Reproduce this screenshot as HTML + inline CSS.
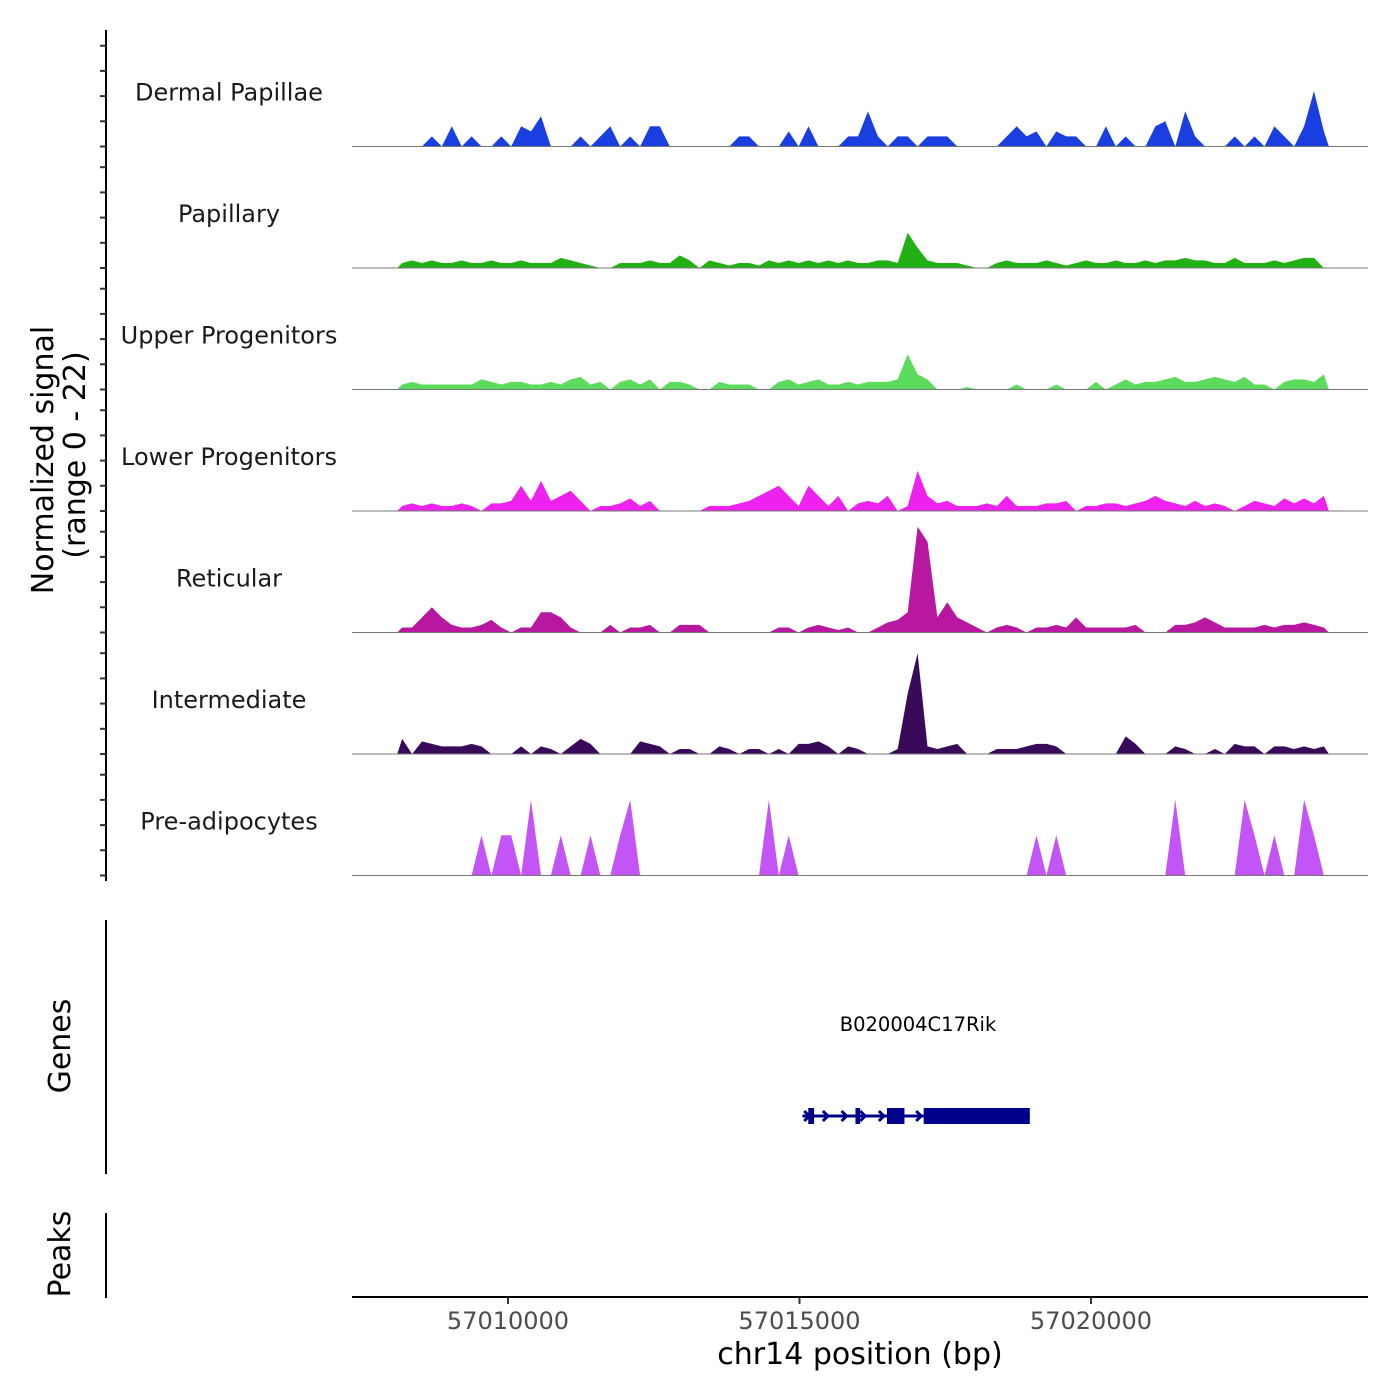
<!DOCTYPE html>
<html><head><meta charset="utf-8"><style>
body{margin:0;background:#fff}
svg{display:block;font-family:"DejaVu Sans","Liberation Sans",sans-serif}
</style></head><body>
<svg id="chart" width="1400" height="1400" viewBox="0 0 1400 1400" xmlns="http://www.w3.org/2000/svg">
<g id="tracks"></g>
<g id="yaxis"></g>
<text transform="translate(53,460) rotate(-90)" text-anchor="middle" font-size="30">Normalized signal</text>
<text transform="translate(85,455) rotate(-90)" text-anchor="middle" font-size="30">(range 0 - 22)</text>
<line x1="106" y1="920" x2="106" y2="1174" stroke="#000" stroke-width="2"/>
<text transform="translate(70,1046) rotate(-90)" text-anchor="middle" font-size="30">Genes</text>
<line x1="106" y1="1213" x2="106" y2="1298" stroke="#000" stroke-width="2"/>
<text transform="translate(70,1254) rotate(-90)" text-anchor="middle" font-size="30">Peaks</text>
<g id="gene"></g>
<g id="xaxis"></g>
<text x="860" y="1364" text-anchor="middle" font-size="30">chr14 position (bp)</text>
</svg>
<script>
const NS="http://www.w3.org/2000/svg";
const binStart=57008100, binStep=170;
const xTicks=[57010000,57015000,57020000];
const trackNames=["Dermal Papillae","Papillary","Upper Progenitors","Lower Progenitors","Reticular","Intermediate","Pre-adipocytes"];
const trackColors=["#1a3fe0","#22b014","#5ddb5d","#ee22ee","#b8179f","#3a0a5a","#c355f7"];
const dermal=[0,0,0,2,0,4,0,2,0,0,2,0,4,3,6,0,0,0,2,0,2,4,0,2,0,4,4,0,0,0,0,0,0,0,2,2,0,0,0,3,0,4,0,0,0,2,2,7,2,0,2,2,0,2,2,2,0,0,0,0,0,2,4,2,3,0,3,2,2,0,0,4,0,2,0,0,4,5,0,7,2,0,0,0,2,0,2,0,4,2,0,4,11,3];
const papillary=[1,1.5,1,1.5,1,1,1.5,1,1,1.5,1,1,1.5,1,1,1,2,1.5,1,0.5,0,0,1,1,1,1.5,1,1,2.5,1.5,0,1.5,1,0.5,1,1,0.5,1.5,1,1.5,1,1.5,1,1.5,1,1.5,1,1,1.5,1.5,1,7,4,1.5,1,1,1,0.5,0,0,1,1.5,1,1,1,1.5,1,0.5,1,1.5,1,1,1.5,1,1,1.5,1,1.5,1.5,2,1.5,1.5,1,1,2,1,1,1,1.5,1,1.5,2,2,0];
const upper=[1,1.5,1,1,1,1,1,1,2,1.5,1,1.5,1.5,1,1,1.5,1,2,2.5,1,1.5,0,1.5,2,1,2,0,1.5,1.5,1,0,0,1.5,1,1,1,0,0,1.5,2,1,1.5,2,1,1,1.5,1,1.5,1.5,1.5,2,7,3,2,0,0,0,0.5,0,0,0,0,1,0,0,0,1,0,0,0,1.5,0,1,2,1,1.5,1.5,2,2.5,1.5,1.5,2,2.5,2,1.5,2.5,1,1,0,1.5,2,2,1.5,3];
const lower=[1,1.5,1,1.5,1,1,1.5,1,0,1.5,1.5,2,5,2,6,2,3,4,2,0,1,1,1.5,2.5,1,2,0,0,0,0,0,1,1,1,1.5,2,3,4,5,3,1,5,3,1,3,0,1.5,2,1.5,3,0,1,8,3,1.5,2,1,1,1,1.5,1,3,1,1,1,1.5,1.5,2,0,1,1,1.5,1.5,1,1.5,2,3,2,1.5,1,2,1,1.5,1,0,1,2,1.5,1,2.5,1.5,2.5,1.5,3];
const reticular=[1,1,3,5,3,1.5,1,1,1.5,2.5,1,0,1,1,4,4,3,1,0,0,0,1.5,0,1,1,1.5,0,0,1.5,1.5,1.5,0,0,0,0,0,0,0,1,1,0,1,1.5,1,0.5,1,0,0,1,2,2.5,4,21,18,3,6,3,2,1,0,1,1.5,1,0,1,1,1.5,1,3,1,1,1,1,1,1.5,0,0,0,1.5,1.5,2,3,2,1,1,1,1,1.5,1,1.5,1.5,2,1.5,1];
const intermediate=[3,0,2.5,2,1.5,1.5,1.5,2,1.5,0,0,0,1.5,0,1.5,1,0,1.5,3,2,0,0,0,0,2.5,2,1.5,0,1,1,0,0,1.5,1,0,1,1,0,1,0,2,2,2.5,1.5,0,1.5,1,0,0,0,1,12,20,1.5,1,1.5,2,0,0,0,1,1,1,1.5,2,2,1.5,0,0,0,0,0,0,3.5,2,0,0,0,1.5,1,0,0,1,0,2,1.5,1.5,0,1.5,1.5,1,1.5,1,1.5];
const preadip=[0,0,0,0,0,0,0,0,8,0,8,8,0,15,0,0,8,0,0,8,0,0,8,15,0,0,0,0,0,0,0,0,0,0,0,0,0,15,0,8,0,0,0,0,0,0,0,0,0,0,0,0,0,0,0,0,0,0,0,0,0,0,0,0,8,0,8,0,0,0,0,0,0,0,0,0,0,0,15,0,0,0,0,0,0,15,8,0,8,0,0,15,8,0];
const trackData=[dermal,papillary,upper,lower,reticular,intermediate,preadip];
const geneExonsStart=[57015150,57015960,57016500,57017130];
const geneExonsEnd=[57015250,57016040,57016800,57018950];
const geneStart=57015050, geneEnd=57018950;

const X0=352,X1=1368,BP0=57007324,BP1=57024751;
const xs=bp=>X0+(bp-BP0)/(BP1-BP0)*(X1-X0);
const pxPerUnit=5.04, trackH=121.5, firstBase=146.5;
const ys=(t,v)=>firstBase+t*trackH-v*pxPerUnit;
function el(tag,attrs,parent){const e=document.createElementNS(NS,tag);for(const k in attrs)e.setAttribute(k,attrs[k]);parent.appendChild(e);return e;}

const tracks=document.getElementById('tracks');
trackData.forEach((arr,t)=>{
  const base=ys(t,0);
  let pts=[[xs(binStart),base]];
  arr.forEach((v,i)=>pts.push([xs(binStart+binStep*(i+0.5)),ys(t,v)]));
  pts.push([xs(binStart+binStep*arr.length),base]);
  const p=el('polygon',{points:pts.map(q=>q[0].toFixed(1)+','+q[1].toFixed(1)).join(' '),fill:trackColors[t]},tracks);
  
  
  const l=el('line',{x1:X0,x2:X1,y1:base,y2:base,stroke:'#777','stroke-width':1},tracks);
  
  
  const tx=el('text',{x:229,y:base-46,'text-anchor':'middle','font-size':24,fill:'#1a1a1a'},tracks);
  tx.textContent=trackNames[t];
  
  
});
const yax=document.getElementById('yaxis');
el('line',{x1:106,x2:106,y1:30,y2:881,stroke:'#000','stroke-width':2},yax);
for(let t=0;t<7;t++){for(let k=0;k<5;k++){const y=ys(t,k*5);
  const tk=el('line',{x1:100,x2:106,y1:y,y2:y,stroke:'#333','stroke-width':2},yax);
  
  }}

const g=document.getElementById('gene');
const gy=1116;
el('line',{x1:xs(geneStart),x2:xs(geneEnd),y1:gy,y2:gy,stroke:'#00008b','stroke-width':3},g);
for(let bp=geneStart+100;bp<57017100;bp+=320){const x=xs(bp);
  el('polyline',{points:`${x-4},${gy-5} ${x+1},${gy} ${x-4},${gy+5}`,fill:'none',stroke:'#00008b','stroke-width':3},g);}
geneExonsStart.forEach((s,i)=>{
  const r=el('rect',{x:xs(s),y:gy-8,width:xs(geneExonsEnd[i])-xs(s),height:16,fill:'#00008b'},g);
  
  
});
const gl=el('text',{x:918,y:1031,'text-anchor':'middle','font-size':19.5},g);
gl.textContent='B020004C17Rik';



const xa=document.getElementById('xaxis');
el('line',{x1:X0,x2:X1,y1:1297,y2:1297,stroke:'#000','stroke-width':2},xa);
xTicks.forEach(v=>{const x=xs(v);
  el('line',{x1:x,x2:x,y1:1297,y2:1304,stroke:'#333','stroke-width':2},xa);
  const t=el('text',{x:x,y:1329,'text-anchor':'middle','font-size':24,fill:'#4d4d4d'},xa);
  t.textContent=v;
  
  });
</script>
</body></html>
